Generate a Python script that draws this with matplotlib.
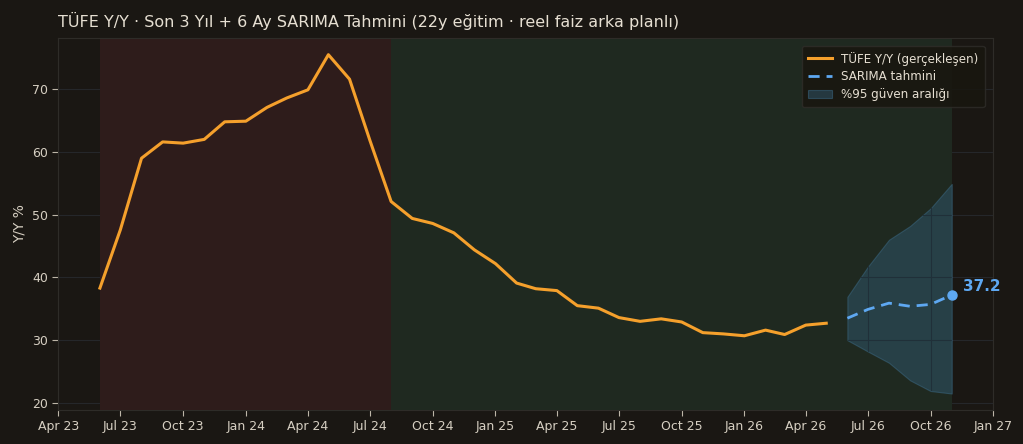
import matplotlib
matplotlib.use("Agg")
import matplotlib.pyplot as plt
import pandas as pd

# Actual CPI Y/Y (monthly, Jun 2023 - May 2026)
actual_start = "2023-06-01"
actual_values = [38.3, 47.6, 59.0, 61.6, 61.4, 62.0, 64.8, 64.9, 67.1, 68.6, 69.9, 75.5,
                 71.6, 61.8, 52.1, 49.4, 48.6, 47.1, 44.4, 42.2, 39.1, 38.2, 37.9, 35.5,
                 35.1, 33.6, 33.0, 33.4, 32.9, 31.2, 31.0, 30.7, 31.6, 30.9, 32.4, 32.7]

# SARIMA forecast (Jun 2026 - Nov 2026)
fc_start = "2026-06-01"
fc_values = [33.5, 34.9, 35.9, 35.4, 35.7, 37.2]
fc_upper = [36.9, 41.7, 46.0, 48.2, 51.0, 54.9]
fc_lower = [30.0, 28.2, 26.4, 23.6, 21.9, 21.5]

# Real rate background regimes
neg_span = ("2023-06-01", "2024-08-01")
pos_span = ("2024-08-01", "2026-11-01")

tick_labels = ["Apr 23", "Jul 23", "Oct 23", "Jan 24", "Apr 24", "Jul 24", "Oct 24", "Jan 25",
               "Apr 25", "Jul 25", "Oct 25", "Jan 26", "Apr 26", "Jul 26", "Oct 26", "Jan 27"]
y_ticks = [20, 30, 40, 50, 60, 70]

act_dates = pd.date_range(actual_start, periods=len(actual_values), freq="MS")
fc_dates = pd.date_range(fc_start, periods=len(fc_values), freq="MS")
tick_dates = pd.date_range("2023-04-01", periods=len(tick_labels), freq="3MS")

BG = "#1a1713"
TXT = "#e6dfd2"
TICK = "#d6cfc2"
GRID = "#25272a"

fig = plt.figure(figsize=(10.23, 4.44), dpi=100, facecolor=BG)
ax = fig.add_axes([0.057, 0.077, 0.914, 0.838])
ax.set_facecolor(BG)

ax.set_axisbelow(True)
ax.grid(True, color=GRID, lw=0.8)

ax.axvspan(pd.Timestamp(neg_span[0]), pd.Timestamp(neg_span[1]), color="#2e1c1b", zorder=1, lw=0)
ax.axvspan(pd.Timestamp(pos_span[0]), pd.Timestamp(pos_span[1]), color="#1f2920", zorder=1, lw=0)

poly = ax.fill_between(fc_dates, fc_lower, fc_upper, color="#2f5468", alpha=0.55,
                       edgecolor="#3a6680", lw=0.8, zorder=2, label="%95 güven aralığı")

ax.set_xlim(pd.Timestamp("2023-04-01"), pd.Timestamp("2027-01-01"))
ax.set_ylim(18.9, 78.2)

# grid lines visible through the confidence band
clip = poly.get_paths()[0]
for yv in y_ticks:
    gl = ax.axhline(yv, color="#203039", lw=0.8, zorder=2.2)
    gl.set_clip_path(clip, poly.get_transform())
for xv in tick_dates:
    gl = ax.axvline(xv, color="#203039", lw=0.8, zorder=2.2)
    gl.set_clip_path(clip, poly.get_transform())

ax.plot(act_dates, actual_values, color="#f5a02c", lw=2.2, zorder=4, label="TÜFE Y/Y (gerçekleşen)")
ax.plot(fc_dates, fc_values, color="#5ea8f2", lw=2.0, ls=(0, (4, 2.5)), zorder=4, label="SARIMA tahmini")
ax.plot([fc_dates[-1]], [fc_values[-1]], "o", color="#5ea8f2", ms=6.5, zorder=5)
ax.annotate(f"{fc_values[-1]:.1f}", (fc_dates[-1], fc_values[-1]), xytext=(8, 6),
            textcoords="offset points", color="#5ea8f2", fontsize=11, fontweight="bold",
            va="center", ha="left", zorder=8)

ax.set_xticks(tick_dates)
ax.set_xticklabels(tick_labels)
ax.set_yticks(y_ticks)
ax.tick_params(colors=TICK, labelsize=9, length=4, color="#bdb6a8")
ax.set_ylabel("Y/Y %", color=TICK, fontsize=10)
for s in ax.spines.values():
    s.set_color("#2e2c28")
    s.set_zorder(6)

ax.set_title("TÜFE Y/Y · Son 3 Yıl + 6 Ay SARIMA Tahmini (22y eğitim · reel faiz arka planlı)",
             loc="left", color=TXT, fontsize=11.5, pad=8)

handles, labels = ax.get_legend_handles_labels()
order = [1, 2, 0]
leg = ax.legend([handles[i] for i in order], [labels[i] for i in order], loc="upper right",
                fontsize=8.6, facecolor="#18160f", edgecolor="#2e2c28", framealpha=0.85,
                labelcolor=TXT, borderpad=0.5, labelspacing=0.4, handlelength=2.0,
                bbox_to_anchor=(0.997, 0.995))
leg.set_zorder(7)

fig.savefig("out.png", dpi=100, facecolor=BG)
